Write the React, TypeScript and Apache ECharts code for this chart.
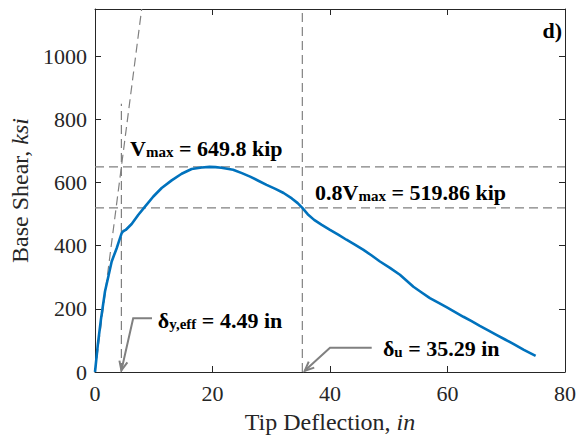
import React, { useEffect, useRef } from 'react';
import * as echarts from 'echarts';

const FONT = "'Liberation Serif', 'Times New Roman', serif";

// Pushover curve (tip deflection in, base shear)
const curveX = [0, 0.5, 1, 1.7, 2.3, 2.84, 3.4, 3.69, 4.0, 4.54, 4.8, 5.22, 6.24, 7.38, 8.51, 9.93, 11.35, 13.05, 14.75, 16.45, 18.16, 19.5, 20.5, 21.5, 22.5, 23.5, 25, 26.4, 27.8, 29.2, 30.7, 32.1, 33.5, 34.5, 35.29, 36.2, 37.3, 38.6, 40, 41.4, 42.8, 44.3, 45.7, 47.1, 48.5, 50.2, 51.9, 53, 54.2, 55.6, 57, 58.5, 59.9, 61.3, 62.7, 64.1, 65.5, 67, 68.4, 69.8, 71.2, 73, 75];
const curveY = [0, 90, 165, 255, 305, 350, 378, 392, 410, 440, 446, 450, 469, 498, 524, 556, 583, 607, 628, 643, 648, 649.8, 649, 647, 644, 641, 630, 619, 606, 593, 580, 567, 550, 535, 519.86, 500, 482, 466, 450, 435, 419, 403, 387, 369, 350, 330, 308, 290, 270, 252, 234, 219, 205, 190, 175, 161, 146, 131, 117, 103, 89, 70, 51];

const xTicks = [0, 20, 40, 60, 80];
const yTicks = [0, 200, 400, 600, 800, 1000];
const xRange = [0, 80];
const yRange = [0, 1150];

const vmax = 649.8;
const vmax08 = 519.86;
const dyEff = 4.49;
const du = 35.29;
const yieldMarkerTop = 850;

// annotation arrows: tail, corner, tip (data coords)
const arrows = [
  [9.7, 170, 6.5, 170, 4.49, 5],
  [47.1, 77, 40, 77, 35.7, 4],
];
// annotation text anchors (left, middle)
const labelAnchors = [
  [5.96, 710],
  [37.45, 571],
  [10.7, 165],
  [49.0, 79],
];
const labelTexts = [
  `{b|V}{s|max}{b| = ${vmax} kip}`,
  `{b|0.8V}{s|max}{b| = ${vmax08} kip}`,
  `{b|δ}{s|y,eff}{b| = ${dyEff} in}`,
  `{b|δ}{s|u}{b| = ${du} in}`,
];

export default function App() {
  const ref = useRef<HTMLDivElement>(null);
  useEffect(() => {
    if (!ref.current) return;
    const chart = echarts.init(ref.current, null, { renderer: 'svg' });
    const dashColor = '#808080';
    const dashStyle = { color: dashColor, width: 1.2, type: [9, 5] as any };
    const secantSlope = vmax / dyEff;
    const refLine = (data: number[][], name: string) => ({
      type: 'line', name, data, symbol: 'none', silent: true,
      lineStyle: dashStyle, z: 1,
    });
    const axisCommon = {
      min: 0, splitLine: { show: false },
      axisLine: { show: true, onZero: false, lineStyle: { color: '#262626', width: 1 } },
      axisTick: { show: true, inside: true, length: 6, lineStyle: { color: '#262626' } },
    };
    chart.setOption({
      animation: false,
      title: {
        text: 'd)', right: 14, top: 14,
        textStyle: { fontFamily: FONT, fontSize: 22, fontWeight: 'bold', color: '#000' },
      },
      grid: { left: 95, right: 16, top: 9, bottom: 68, containLabel: false },
      xAxis: [
        {
          ...axisCommon, type: 'value', position: 'bottom', min: xRange[0], max: xRange[1], interval: 20,
          axisLabel: {
            fontFamily: FONT, fontSize: 22, color: '#262626', margin: 10,
            formatter: (v: number) => (xTicks.includes(v) ? String(v) : ''),
          },
          name: '{r|Tip Deflection, }{i|in}', nameLocation: 'middle', nameGap: 38,
          nameTextStyle: {
            rich: {
              r: { fontFamily: FONT, fontSize: 24, color: '#262626' },
              i: { fontFamily: FONT, fontSize: 24, fontStyle: 'italic', color: '#262626' },
            },
          },
        },
        {
          ...axisCommon, type: 'value', position: 'top', min: xRange[0], max: xRange[1], interval: 20,
          axisLabel: { show: false },
        },
      ],
      yAxis: [
        {
          ...axisCommon, type: 'value', position: 'left', min: yRange[0], max: yRange[1], interval: 200,
          axisLabel: {
            fontFamily: FONT, fontSize: 22, color: '#262626', margin: 8,
            formatter: (v: number) => (yTicks.includes(v) ? String(v) : ''),
          },
          name: '{r|Base Shear, }{i|ksi}', nameLocation: 'middle', nameGap: 56,
          nameTextStyle: {
            rich: {
              r: { fontFamily: FONT, fontSize: 24, color: '#262626' },
              i: { fontFamily: FONT, fontSize: 24, fontStyle: 'italic', color: '#262626' },
            },
          },
        },
        {
          ...axisCommon, type: 'value', position: 'right', min: yRange[0], max: yRange[1], interval: 200,
          axisLabel: { show: false },
        },
      ],
      series: [
        refLine([[xRange[0], vmax], [xRange[1], vmax]], 'vmax'),
        refLine([[xRange[0], vmax08], [xRange[1], vmax08]], 'vmax08'),
        refLine([[du, yRange[0]], [du, yRange[1]]], 'du'),
        refLine([[dyEff, 0], [dyEff, yieldMarkerTop]], 'dy'),
        refLine([[0, 0], [yRange[1] / secantSlope, yRange[1]]], 'secant'),
        {
          type: 'line', name: 'curve', data: curveX.map((x, i) => [x, curveY[i]]),
          symbol: 'none', lineStyle: { color: '#0072BD', width: 2.6 }, z: 3,
        },
        {
          type: 'custom', name: 'arrows', data: arrows, z: 4, silent: true,
          renderItem: (params: any, api: any) => {
            const p0 = api.coord([api.value(0), api.value(1)]);
            const p1 = api.coord([api.value(2), api.value(3)]);
            const p2 = api.coord([api.value(4), api.value(5)]);
            const ang = Math.atan2(p2[1] - p1[1], p2[0] - p1[0]);
            const L = 10, sp = 0.42;
            const h1 = [p2[0] - L * Math.cos(ang - sp), p2[1] - L * Math.sin(ang - sp)];
            const h2 = [p2[0] - L * Math.cos(ang + sp), p2[1] - L * Math.sin(ang + sp)];
            const st = { stroke: '#808080', lineWidth: 2, fill: null };
            return {
              type: 'group',
              children: [
                { type: 'polyline', shape: { points: [p0, p1, p2] }, style: st },
                { type: 'polyline', shape: { points: [h1, p2, h2] }, style: st },
              ],
            };
          },
        },
        {
          type: 'custom', name: 'labels', data: labelAnchors.map((a, i) => [a[0], a[1], i]), z: 5, silent: true,
          renderItem: (params: any, api: any) => {
            const p = api.coord([api.value(0), api.value(1)]);
            const idx = api.value(2);
            return {
              type: 'text', x: p[0], y: p[1],
              style: {
                text: labelTexts[idx], align: 'left', verticalAlign: 'middle',
                rich: {
                  b: { fontFamily: FONT, fontSize: 22, fontWeight: 'bold', fill: '#000', verticalAlign: 'bottom', lineHeight: 24 },
                  s: { fontFamily: FONT, fontSize: 15, fontWeight: 'bold', fill: '#000', verticalAlign: 'bottom', lineHeight: 17 },
                },
              },
            };
          },
        },
      ],
    });
    return () => chart.dispose();
  }, []);
  return <div ref={ref} style={{ position: 'absolute', left: 0, top: 0, width: 581, height: 440 }} />;
}
